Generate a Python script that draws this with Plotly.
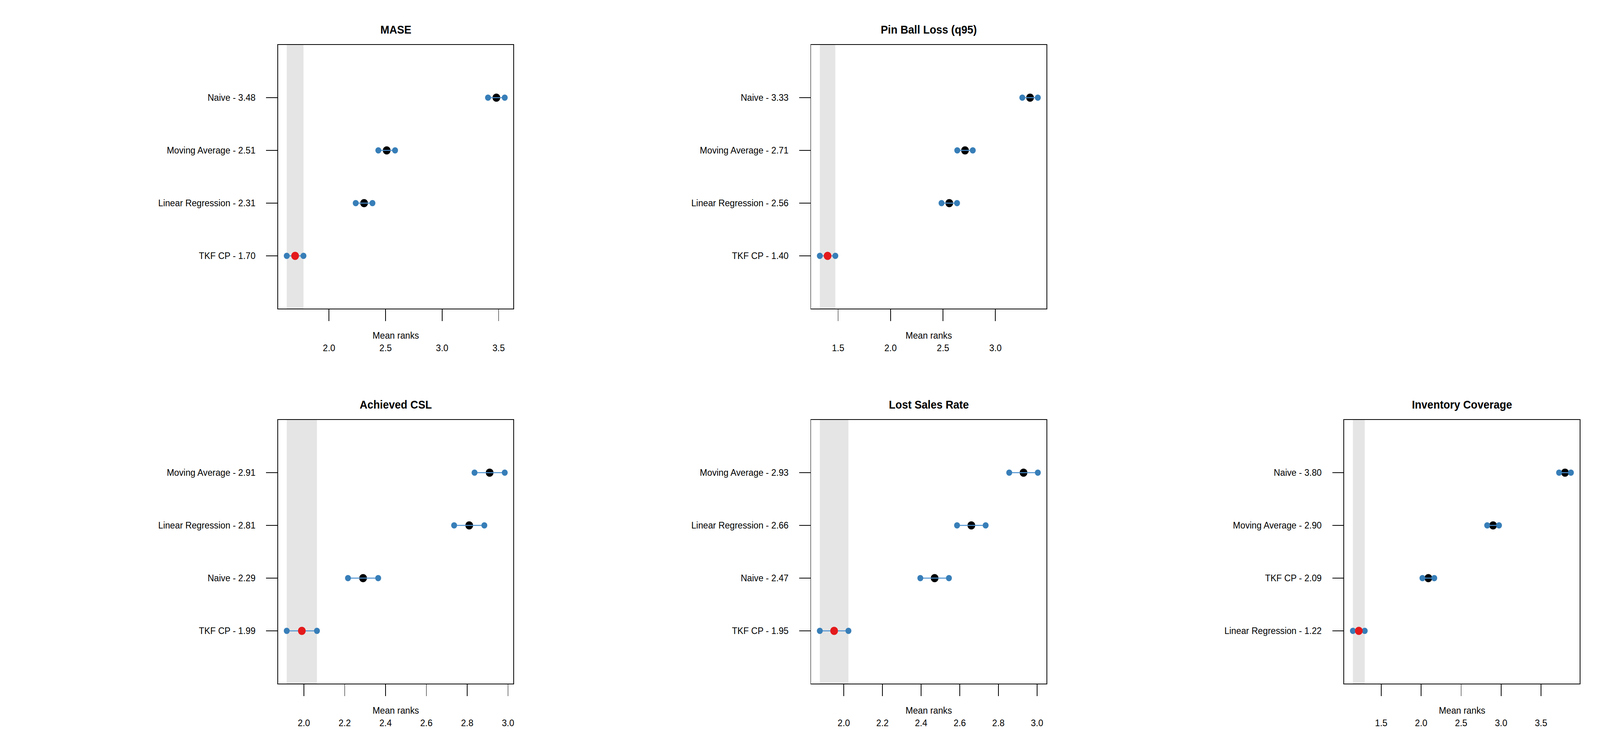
import plotly.graph_objects as go

# ---------------- data ----------------
titles = ["MASE", "Pin Ball Loss (q95)", "Achieved CSL", "Lost Sales Rate", "Inventory Coverage"]

methods_mase = ["TKF CP", "Linear Regression", "Moving Average", "Naive"]
means_mase = [1.70, 2.31, 2.51, 3.48]

methods_pinball = ["TKF CP", "Linear Regression", "Moving Average", "Naive"]
means_pinball = [1.40, 2.56, 2.71, 3.33]

methods_csl = ["TKF CP", "Naive", "Linear Regression", "Moving Average"]
means_csl = [1.99, 2.29, 2.81, 2.91]

methods_lost = ["TKF CP", "Naive", "Linear Regression", "Moving Average"]
means_lost = [1.95, 2.47, 2.66, 2.93]

methods_inv = ["Linear Regression", "TKF CP", "Moving Average", "Naive"]
means_inv = [1.22, 2.09, 2.90, 3.80]

ticks_mase = [2.0, 2.5, 3.0, 3.5]
ticks_pinball = [1.5, 2.0, 2.5, 3.0]
ticks_csl = [2.0, 2.2, 2.4, 2.6, 2.8, 3.0]
ticks_lost = [2.0, 2.2, 2.4, 2.6, 2.8, 3.0]
ticks_inv = [1.5, 2.0, 2.5, 3.0, 3.5]

critical_difference = 0.148  # Nemenyi CD (interval = mean +/- CD/2)

# ---------------- layout constants ----------------
W, H = 4320, 1920
CELL_W, CELL_H = 1440, 960
BOX_L, BOX_R = 751, 1387      # box x within cell
BOX_T, BOX_B = 115, 790       # box y within cell
FONT = "Liberation Sans"
BLUE = "#377EB8"
LINE_BLUE = "#4A90D0"
RED = "#E41A1C"
BAND = "#E5E5E5"

panels = [
    (titles[0], methods_mase, means_mase, ticks_mase, 0, 0),
    (titles[1], methods_pinball, means_pinball, ticks_pinball, 1, 0),
    (titles[2], methods_csl, means_csl, ticks_csl, 0, 1),
    (titles[3], methods_lost, means_lost, ticks_lost, 1, 1),
    (titles[4], methods_inv, means_inv, ticks_inv, 2, 1),
]

fig = go.Figure()
annotations = []
shapes = []
half = critical_difference / 2

for i, (title, methods, means, ticks, col, row) in enumerate(panels):
    n = i + 1
    xa = "x" if n == 1 else f"x{n}"
    ya = "y" if n == 1 else f"y{n}"
    xkey = "xaxis" if n == 1 else f"xaxis{n}"
    ykey = "yaxis" if n == 1 else f"yaxis{n}"

    x0 = (col * CELL_W + BOX_L) / W
    x1 = (col * CELL_W + BOX_R) / W
    top_px = row * CELL_H + BOX_T
    bot_px = row * CELL_H + BOX_B
    y0 = 1 - bot_px / H
    y1 = 1 - top_px / H

    ypos = list(range(1, len(methods) + 1))
    lows = [m - half for m in means]
    highs = [m + half for m in means]
    lo, hi = min(lows), max(highs)
    pad = 0.04 * (hi - lo)

    best = means.index(min(means))

    # black mean points (non-best)
    fig.add_trace(go.Scatter(
        x=[m for j, m in enumerate(means) if j != best],
        y=[ypos[j] for j in range(len(means)) if j != best],
        mode="markers", marker=dict(color="black", size=21),
        xaxis=xa, yaxis=ya, showlegend=False, hoverinfo="skip"))
    # interval segments
    seg_x, seg_y = [], []
    for j in range(len(means)):
        seg_x += [lows[j], highs[j], None]
        seg_y += [ypos[j], ypos[j], None]
    fig.add_trace(go.Scatter(
        x=seg_x, y=seg_y, mode="lines", line=dict(color=LINE_BLUE, width=2.5),
        xaxis=xa, yaxis=ya, showlegend=False, hoverinfo="skip"))
    # interval end points
    fig.add_trace(go.Scatter(
        x=lows + highs, y=ypos + ypos, mode="markers",
        marker=dict(color=BLUE, size=16),
        xaxis=xa, yaxis=ya, showlegend=False, hoverinfo="skip"))
    # best method in red
    fig.add_trace(go.Scatter(
        x=[means[best]], y=[ypos[best]], mode="markers",
        marker=dict(color=RED, size=21),
        xaxis=xa, yaxis=ya, showlegend=False, hoverinfo="skip"))

    # grey band for the best method's interval
    shapes.append(dict(type="rect", xref=xa, yref=f"{ya} domain",
                       x0=lows[best], x1=highs[best], y0=0, y1=1,
                       fillcolor=BAND, line=dict(width=0), layer="below"))

    fig.layout[xkey] = dict(
        domain=[x0, x1], anchor=ya, range=[lo - pad, hi + pad],
        tickvals=ticks, ticktext=[f"{t:.1f}" for t in ticks],
        ticks="outside", ticklen=30, tickwidth=2, tickcolor="black",
        ticklabelstandoff=48,
        showline=True, mirror=True, linewidth=2, linecolor="black",
        showgrid=False, zeroline=False,
        tickfont=dict(family=FONT, size=24, color="black"), fixedrange=True)
    fig.layout[ykey] = dict(
        domain=[y0, y1], anchor=xa, range=[0, 5],
        tickvals=ypos, ticktext=[f"{m} - {v:.2f}" for m, v in zip(methods, means)],
        ticks="outside", ticklen=30, tickwidth=2, tickcolor="black",
        ticklabelstandoff=24,
        showline=True, mirror=True, linewidth=2, linecolor="black",
        showgrid=False, zeroline=False,
        tickfont=dict(family=FONT, size=24, color="black"), fixedrange=True)

    cx = (x0 + x1) / 2
    annotations.append(dict(text=f"<b>{title}</b>", x=cx, y=1 - (top_px - 39) / H,
                            xref="paper", yref="paper", xanchor="center", yanchor="middle",
                            showarrow=False, font=dict(family=FONT, size=29, color="black")))
    annotations.append(dict(text="Mean ranks", x=cx, y=1 - (bot_px + 68) / H,
                            xref="paper", yref="paper", xanchor="center", yanchor="middle",
                            showarrow=False, font=dict(family=FONT, size=24, color="black")))

fig.update_layout(
    width=W, height=H, margin=dict(l=0, r=0, t=0, b=0),
    paper_bgcolor="white", plot_bgcolor="white",
    annotations=annotations, shapes=shapes,
    font=dict(family=FONT, size=24, color="black"),
    showlegend=False)

# remove page margins and fit the fixed-size figure to the whole viewport
fit_js = """
var gd = document.getElementById('{plot_id}');
document.documentElement.style.margin = '0';
document.body.style.margin = '0';
document.documentElement.style.overflow = 'hidden';
document.body.style.overflow = 'hidden';
var sx = window.innerWidth / 4320, sy = window.innerHeight / 1920;
if (sx > 0.5 && sx < 1.5 && sy > 0.5 && sy < 1.5 &&
    (Math.abs(sx - 1) > 0.002 || Math.abs(sy - 1) > 0.002)) {
  gd.style.transformOrigin = '0 0';
  gd.style.transform = 'scale(' + sx + ',' + sy + ')';
  var p = gd.parentElement;
  p.style.width = (4320 * sx) + 'px';
  p.style.height = (1920 * sy) + 'px';
  p.style.overflow = 'hidden';
}
"""

fig.write_html("out.html", post_script=fit_js, config={"displayModeBar": False})
